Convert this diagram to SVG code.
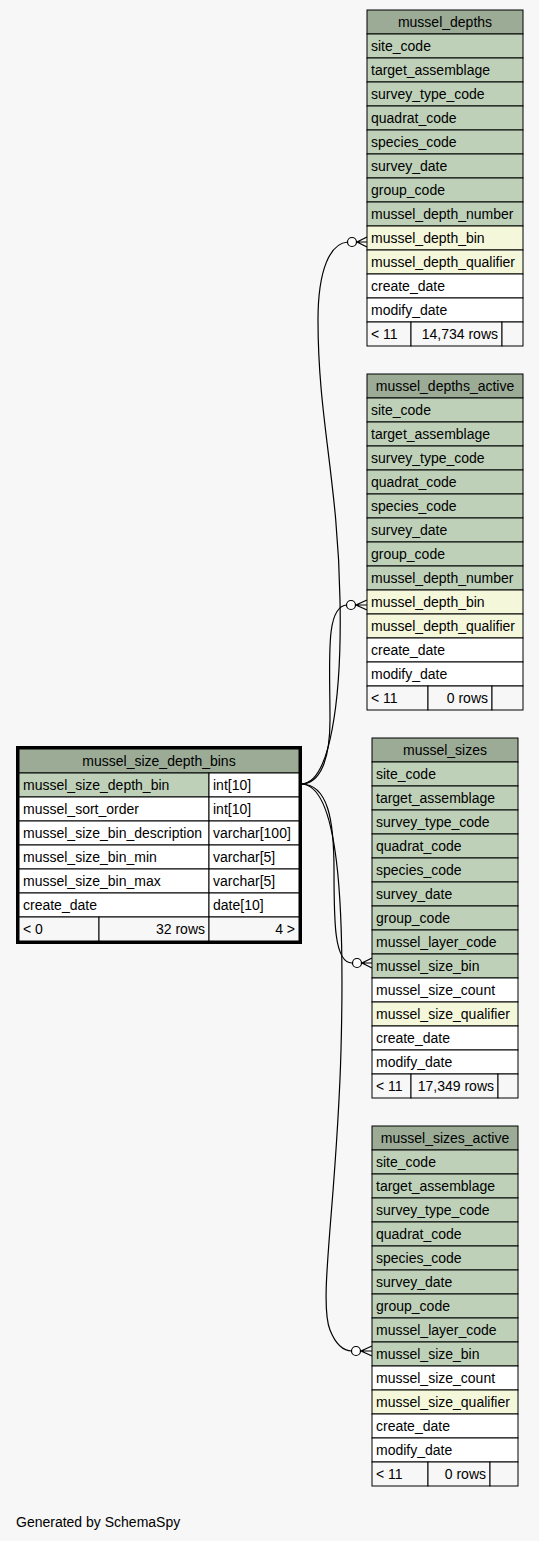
<svg xmlns="http://www.w3.org/2000/svg" width="539" height="1541" viewBox="0 0 539 1541">
<style>
text{font-family:"Liberation Sans",Arial,sans-serif;font-size:14px;fill:#000}
.h{fill:#9bab96;stroke:#000;stroke-width:1}
.k{fill:#bed1b8;stroke:#000;stroke-width:1}
.i{fill:#f4f7da;stroke:#000;stroke-width:1}
.w{fill:#fff;stroke:#000;stroke-width:1}
.f{fill:#f7f7f7;stroke:#000;stroke-width:1}
.c{text-anchor:middle}
.r{text-anchor:end}
.e{fill:none;stroke:#000;stroke-width:1.2}
.o{fill:#fff;stroke:#000;stroke-width:1.2}
</style>
<rect width="539" height="1541" fill="#f7f7f7"/>

<g id="edges">
<path class="e" d="M301,784 C330,784 342,700 340,600 C338,480 318,420 318,320 C318,270 330,243 348,242"/>
<circle class="o" cx="352" cy="242" r="4.5"/>
<path class="e" d="M367,237 L357,242 L367,247 M356,242 L367,242"/>

<path class="e" d="M301,784 C320,784 330,760 330,720 C330,660 325,606 347,605"/>
<circle class="o" cx="351" cy="605" r="4.5"/>
<path class="e" d="M367,600 L356,605 L367,610 M355,605 L367,605"/>

<path class="e" d="M301,784 C328,784 334,820 334,870 C334,920 334,963 352,963"/>
<circle class="o" cx="357" cy="963" r="4.5"/>
<path class="e" d="M372,958 L362,963 L372,968 M361,963 L372,963"/>

<path class="e" d="M301,784 C338,784 345,900 341,1050 C337,1200 318,1300 330,1330 C336,1345 344,1351 352,1351"/>
<circle class="o" cx="356" cy="1351" r="4.5"/>
<path class="e" d="M372,1346 L361,1351 L372,1356 M360,1351 L372,1351"/>
</g>

<g id="mussel_depths">
<rect class="h" x="367" y="10" width="156" height="24"/><text class="c" x="445" y="27">mussel_depths</text>
<rect class="k" x="367" y="34" width="156" height="24"/><text x="371" y="51">site_code</text>
<rect class="k" x="367" y="58" width="156" height="24"/><text x="371" y="75">target_assemblage</text>
<rect class="k" x="367" y="82" width="156" height="24"/><text x="371" y="99">survey_type_code</text>
<rect class="k" x="367" y="106" width="156" height="24"/><text x="371" y="123">quadrat_code</text>
<rect class="k" x="367" y="130" width="156" height="24"/><text x="371" y="147">species_code</text>
<rect class="k" x="367" y="154" width="156" height="24"/><text x="371" y="171">survey_date</text>
<rect class="k" x="367" y="178" width="156" height="24"/><text x="371" y="195">group_code</text>
<rect class="k" x="367" y="202" width="156" height="24"/><text x="371" y="219">mussel_depth_number</text>
<rect class="i" x="367" y="226" width="156" height="24"/><text x="371" y="243">mussel_depth_bin</text>
<rect class="i" x="367" y="250" width="156" height="24"/><text x="371" y="267">mussel_depth_qualifier</text>
<rect class="w" x="367" y="274" width="156" height="24"/><text x="371" y="291">create_date</text>
<rect class="w" x="367" y="298" width="156" height="24"/><text x="371" y="315">modify_date</text>
<rect class="f" x="367" y="322" width="44" height="24"/><text x="371" y="339">&lt; 11</text>
<rect class="f" x="411" y="322" width="91" height="24"/><text class="r" x="498" y="339">14,734 rows</text>
<rect class="f" x="502" y="322" width="21" height="24"/>
</g>

<g id="mussel_depths_active">
<rect class="h" x="367" y="374" width="156" height="24"/><text class="c" x="445" y="391">mussel_depths_active</text>
<rect class="k" x="367" y="398" width="156" height="24"/><text x="371" y="415">site_code</text>
<rect class="k" x="367" y="422" width="156" height="24"/><text x="371" y="439">target_assemblage</text>
<rect class="k" x="367" y="446" width="156" height="24"/><text x="371" y="463">survey_type_code</text>
<rect class="k" x="367" y="470" width="156" height="24"/><text x="371" y="487">quadrat_code</text>
<rect class="k" x="367" y="494" width="156" height="24"/><text x="371" y="511">species_code</text>
<rect class="k" x="367" y="518" width="156" height="24"/><text x="371" y="535">survey_date</text>
<rect class="k" x="367" y="542" width="156" height="24"/><text x="371" y="559">group_code</text>
<rect class="k" x="367" y="566" width="156" height="24"/><text x="371" y="583">mussel_depth_number</text>
<rect class="i" x="367" y="590" width="156" height="24"/><text x="371" y="607">mussel_depth_bin</text>
<rect class="i" x="367" y="614" width="156" height="24"/><text x="371" y="631">mussel_depth_qualifier</text>
<rect class="w" x="367" y="638" width="156" height="24"/><text x="371" y="655">create_date</text>
<rect class="w" x="367" y="662" width="156" height="24"/><text x="371" y="679">modify_date</text>
<rect class="f" x="367" y="686" width="61" height="24"/><text x="371" y="703">&lt; 11</text>
<rect class="f" x="428" y="686" width="64" height="24"/><text class="r" x="488" y="703">0 rows</text>
<rect class="f" x="492" y="686" width="31" height="24"/>
</g>

<g id="mussel_sizes">
<rect class="h" x="372" y="738" width="146" height="24"/><text class="c" x="445" y="755">mussel_sizes</text>
<rect class="k" x="372" y="762" width="146" height="24"/><text x="376" y="779">site_code</text>
<rect class="k" x="372" y="786" width="146" height="24"/><text x="376" y="803">target_assemblage</text>
<rect class="k" x="372" y="810" width="146" height="24"/><text x="376" y="827">survey_type_code</text>
<rect class="k" x="372" y="834" width="146" height="24"/><text x="376" y="851">quadrat_code</text>
<rect class="k" x="372" y="858" width="146" height="24"/><text x="376" y="875">species_code</text>
<rect class="k" x="372" y="882" width="146" height="24"/><text x="376" y="899">survey_date</text>
<rect class="k" x="372" y="906" width="146" height="24"/><text x="376" y="923">group_code</text>
<rect class="k" x="372" y="930" width="146" height="24"/><text x="376" y="947">mussel_layer_code</text>
<rect class="k" x="372" y="954" width="146" height="24"/><text x="376" y="971">mussel_size_bin</text>
<rect class="w" x="372" y="978" width="146" height="24"/><text x="376" y="995">mussel_size_count</text>
<rect class="i" x="372" y="1002" width="146" height="24"/><text x="376" y="1019">mussel_size_qualifier</text>
<rect class="w" x="372" y="1026" width="146" height="24"/><text x="376" y="1043">create_date</text>
<rect class="w" x="372" y="1050" width="146" height="24"/><text x="376" y="1067">modify_date</text>
<rect class="f" x="372" y="1074" width="39" height="24"/><text x="376" y="1091">&lt; 11</text>
<rect class="f" x="411" y="1074" width="87" height="24"/><text class="r" x="494" y="1091">17,349 rows</text>
<rect class="f" x="498" y="1074" width="20" height="24"/>
</g>

<g id="mussel_sizes_active">
<rect class="h" x="372" y="1126" width="146" height="24"/><text class="c" x="445" y="1143">mussel_sizes_active</text>
<rect class="k" x="372" y="1150" width="146" height="24"/><text x="376" y="1167">site_code</text>
<rect class="k" x="372" y="1174" width="146" height="24"/><text x="376" y="1191">target_assemblage</text>
<rect class="k" x="372" y="1198" width="146" height="24"/><text x="376" y="1215">survey_type_code</text>
<rect class="k" x="372" y="1222" width="146" height="24"/><text x="376" y="1239">quadrat_code</text>
<rect class="k" x="372" y="1246" width="146" height="24"/><text x="376" y="1263">species_code</text>
<rect class="k" x="372" y="1270" width="146" height="24"/><text x="376" y="1287">survey_date</text>
<rect class="k" x="372" y="1294" width="146" height="24"/><text x="376" y="1311">group_code</text>
<rect class="k" x="372" y="1318" width="146" height="24"/><text x="376" y="1335">mussel_layer_code</text>
<rect class="k" x="372" y="1342" width="146" height="24"/><text x="376" y="1359">mussel_size_bin</text>
<rect class="w" x="372" y="1366" width="146" height="24"/><text x="376" y="1383">mussel_size_count</text>
<rect class="i" x="372" y="1390" width="146" height="24"/><text x="376" y="1407">mussel_size_qualifier</text>
<rect class="w" x="372" y="1414" width="146" height="24"/><text x="376" y="1431">create_date</text>
<rect class="w" x="372" y="1438" width="146" height="24"/><text x="376" y="1455">modify_date</text>
<rect class="f" x="372" y="1462" width="56" height="24"/><text x="376" y="1479">&lt; 11</text>
<rect class="f" x="428" y="1462" width="62" height="24"/><text class="r" x="486" y="1479">0 rows</text>
<rect class="f" x="490" y="1462" width="28" height="24"/>
</g>

<g id="mussel_size_depth_bins">
<rect class="h" x="19" y="749" width="280" height="24"/><text class="c" x="159" y="766">mussel_size_depth_bins</text>
<rect class="k" x="19" y="773" width="190" height="24"/><text x="23" y="790">mussel_size_depth_bin</text>
<rect class="w" x="209" y="773" width="90" height="24"/><text x="213" y="790">int[10]</text>
<rect class="w" x="19" y="797" width="190" height="24"/><text x="23" y="814">mussel_sort_order</text>
<rect class="w" x="209" y="797" width="90" height="24"/><text x="213" y="814">int[10]</text>
<rect class="w" x="19" y="821" width="190" height="24"/><text x="23" y="838">mussel_size_bin_description</text>
<rect class="w" x="209" y="821" width="90" height="24"/><text x="213" y="838">varchar[100]</text>
<rect class="w" x="19" y="845" width="190" height="24"/><text x="23" y="862">mussel_size_bin_min</text>
<rect class="w" x="209" y="845" width="90" height="24"/><text x="213" y="862">varchar[5]</text>
<rect class="w" x="19" y="869" width="190" height="24"/><text x="23" y="886">mussel_size_bin_max</text>
<rect class="w" x="209" y="869" width="90" height="24"/><text x="213" y="886">varchar[5]</text>
<rect class="w" x="19" y="893" width="190" height="24"/><text x="23" y="910">create_date</text>
<rect class="w" x="209" y="893" width="90" height="24"/><text x="213" y="910">date[10]</text>
<rect class="f" x="19" y="917" width="80" height="24"/><text x="23" y="934">&lt; 0</text>
<rect class="f" x="99" y="917" width="110" height="24"/><text class="r" x="205" y="934">32 rows</text>
<rect class="f" x="209" y="917" width="90" height="24"/><text class="r" x="295" y="934">4 &gt;</text>
<rect x="17.5" y="747.5" width="283" height="195" fill="none" stroke="#000" stroke-width="3"/>
</g>

<text x="16" y="1527">Generated by SchemaSpy</text>
</svg>
